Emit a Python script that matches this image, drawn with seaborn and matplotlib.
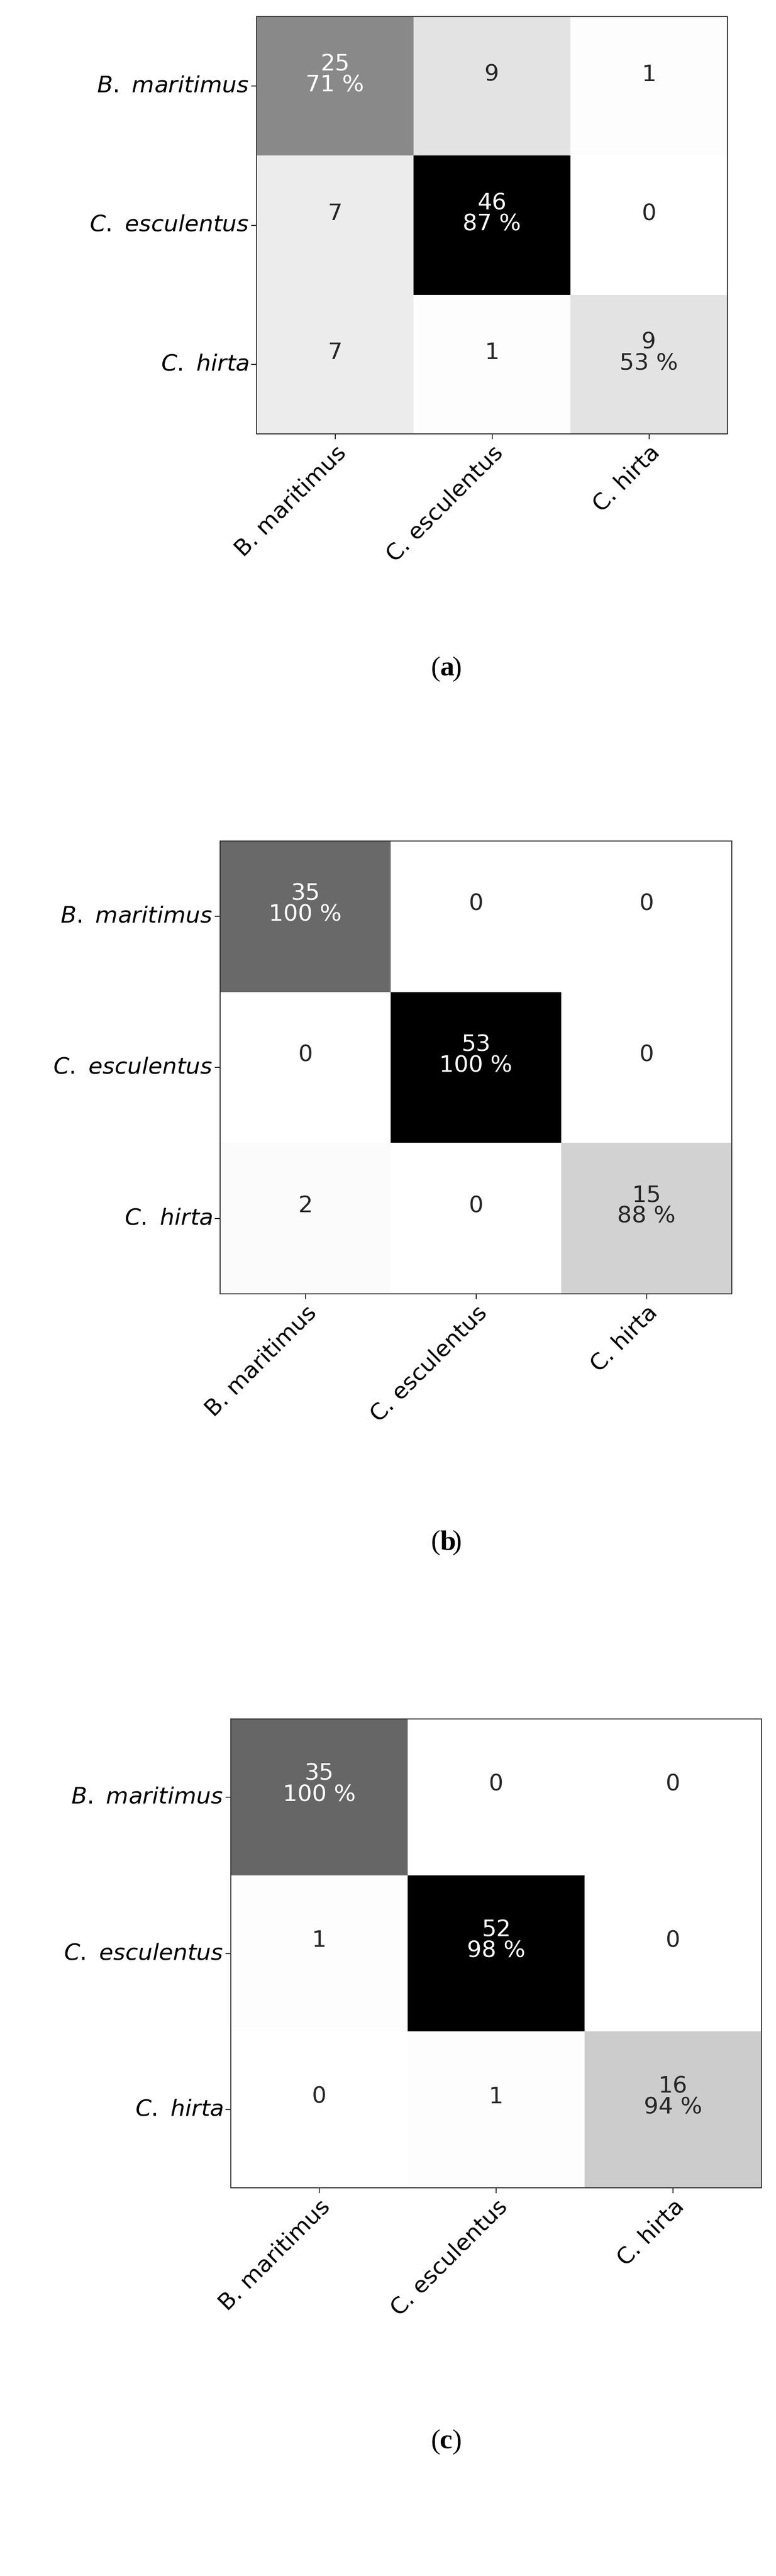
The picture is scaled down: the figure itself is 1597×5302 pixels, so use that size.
import matplotlib as mpl
mpl.use("Agg")
import matplotlib.pyplot as plt
import seaborn as sns
import numpy as np

classes = ["B. maritimus", "C. esculentus", "C. hirta"]
row_labels = [r"$B.\ maritimus$", r"$C.\ esculentus$", r"$C.\ hirta$"]

cm_a = np.array([[25, 9, 1], [7, 46, 0], [7, 1, 9]])
cm_b = np.array([[35, 0, 0], [0, 53, 0], [2, 0, 15]])
cm_c = np.array([[35, 0, 0], [1, 52, 0], [0, 1, 16]])
panel_tags = ["a", "b", "c"]

# axes boxes in figure fractions (left, bottom, width, height) taken from reference pixels
W, H = 1597, 5302
boxes_px = [(528, 34, 1497, 893), (453, 1731, 1506, 2663), (475, 3538, 1567, 4503)]
caption_y_px = [1377, 3175, 5026]

fig = plt.figure(figsize=(W / 100, H / 100), dpi=100)
mpl.rcParams['mathtext.fontset'] = 'dejavusans'

for cm, box, tag, cy in zip([cm_a, cm_b, cm_c], boxes_px, panel_tags, caption_y_px):
    x0, y0, x1, y1 = box
    ax = fig.add_axes([x0 / W, 1 - y1 / H, (x1 - x0) / W, (y1 - y0) / H])
    annot = cm.astype(str).astype(object)
    for i in range(len(cm)):
        pct = round(100 * cm[i, i] / cm[i].sum())
        annot[i, i] = f"{cm[i, i]}\n{pct} %"
    sns.heatmap(cm, ax=ax, cmap="Greys", vmin=0, vmax=cm.max(), cbar=False,
                annot=annot, fmt="", annot_kws={"fontsize": 34, "linespacing": 0.95},
                xticklabels=classes, yticklabels=row_labels)
    # move numbers up a bit, like the reference
    for t in ax.texts:
        x, y = t.get_position()
        t.set_position((x, y - 0.08))
    for s in ax.spines.values():
        s.set_visible(True)
        s.set_linewidth(1.5)
        s.set_color("#333333")
    ax.tick_params(axis="both", length=8, width=1.2, labelsize=34)
    ax.set_xticklabels(classes, rotation=45, ha="right", rotation_mode="anchor", fontsize=34)
    ax.set_yticklabels(row_labels, rotation=0, fontsize=34)
    fig.text(0.567, 1 - cy / H, r"(" , ha="right", va="center", fontsize=42, family="Liberation Serif")
    fig.text(0.567, 1 - cy / H, tag, ha="left", va="center", fontsize=42, family="Liberation Serif", weight="bold")
    fig.text(0.567 + 0.0155, 1 - cy / H, ")", ha="left", va="center", fontsize=42, family="Liberation Serif")

plt.savefig("out.png", dpi=100)
